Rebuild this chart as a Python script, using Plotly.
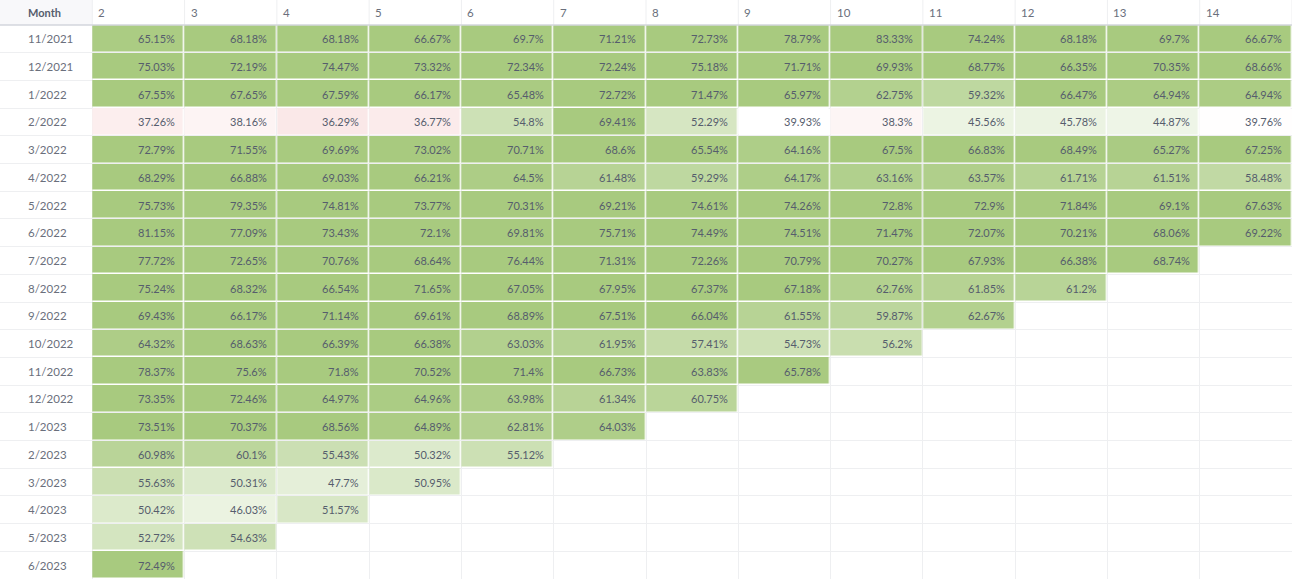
import numpy as np
import plotly.graph_objects as go

months = ['11/2021', '12/2021', '1/2022', '2/2022', '3/2022', '4/2022', '5/2022', '6/2022',
          '7/2022', '8/2022', '9/2022', '10/2022', '11/2022', '12/2022', '1/2023', '2/2023',
          '3/2023', '4/2023', '5/2023', '6/2023']
periods = ['2', '3', '4', '5', '6', '7', '8', '9', '10', '11', '12', '13', '14']

retention = [
    [65.15, 68.18, 68.18, 66.67, 69.7, 71.21, 72.73, 78.79, 83.33, 74.24, 68.18, 69.7, 66.67],
    [75.03, 72.19, 74.47, 73.32, 72.34, 72.24, 75.18, 71.71, 69.93, 68.77, 66.35, 70.35, 68.66],
    [67.55, 67.65, 67.59, 66.17, 65.48, 72.72, 71.47, 65.97, 62.75, 59.32, 66.47, 64.94, 64.94],
    [37.26, 38.16, 36.29, 36.77, 54.8, 69.41, 52.29, 39.93, 38.3, 45.56, 45.78, 44.87, 39.76],
    [72.79, 71.55, 69.69, 73.02, 70.71, 68.6, 65.54, 64.16, 67.5, 66.83, 68.49, 65.27, 67.25],
    [68.29, 66.88, 69.03, 66.21, 64.5, 61.48, 59.29, 64.17, 63.16, 63.57, 61.71, 61.51, 58.48],
    [75.73, 79.35, 74.81, 73.77, 70.31, 69.21, 74.61, 74.26, 72.8, 72.9, 71.84, 69.1, 67.63],
    [81.15, 77.09, 73.43, 72.1, 69.81, 75.71, 74.49, 74.51, 71.47, 72.07, 70.21, 68.06, 69.22],
    [77.72, 72.65, 70.76, 68.64, 76.44, 71.31, 72.26, 70.79, 70.27, 67.93, 66.38, 68.74],
    [75.24, 68.32, 66.54, 71.65, 67.05, 67.95, 67.37, 67.18, 62.76, 61.85, 61.2],
    [69.43, 66.17, 71.14, 69.61, 68.89, 67.51, 66.04, 61.55, 59.87, 62.67],
    [64.32, 68.63, 66.39, 66.38, 63.03, 61.95, 57.41, 54.73, 56.2],
    [78.37, 75.6, 71.8, 70.52, 71.4, 66.73, 63.83, 65.78],
    [73.35, 72.46, 64.97, 64.96, 63.98, 61.34, 60.75],
    [73.51, 70.37, 68.56, 64.89, 62.81, 64.03],
    [60.98, 60.1, 55.43, 50.32, 55.12],
    [55.63, 50.31, 47.7, 50.95],
    [50.42, 46.03, 51.57],
    [52.72, 54.63],
    [72.49],
]

W, H = 1292, 579
HEADER_PX = 25
TEXT = '#565D6D'
LIGHT = '#6A6F7C'
GRID = '#EEEFF1'

# pad the triangle with NaN so the empty cells stay blank
z = np.full((len(months), len(periods)), np.nan)
for i, row in enumerate(retention):
    z[i, :len(row)] = row

col_x = list(range(1, len(periods) + 1))   # column 0 holds the Month labels
row_y = list(range(len(months)))
top = 1 - HEADER_PX / H
head_y = (1 + top) / 2

fig = go.Figure(go.Heatmap(
    z=z, x=col_x, y=row_y,
    zmin=36, zmax=66,
    colorscale=[[0, '#FAE6E6'], [0.13, '#FFFFFF'], [1, '#A8CA7F']],
    showscale=False, xgap=1.5, ygap=1.5, hoverinfo='skip',
))

anns = []
for i, m in enumerate(months):
    anns.append(dict(x=-0.5, y=i, xref='x', yref='y', text=m, showarrow=False,
                     xanchor='left', xshift=26, font=dict(color=LIGHT, size=11.5)))
    for j, v in enumerate(retention[i]):
        anns.append(dict(x=col_x[j] + 0.5, y=i, xref='x', yref='y', text=f'{v:g}%',
                         showarrow=False, xanchor='right', xshift=-8,
                         font=dict(color=TEXT, size=11)))

anns.append(dict(x=-0.5, y=head_y, xref='x', yref='paper', text='<b>Month</b>',
                 showarrow=False, xanchor='left', yanchor='middle', xshift=26,
                 font=dict(color=TEXT, size=11)))
for j, p in enumerate(periods):
    anns.append(dict(x=col_x[j] - 0.5, y=head_y, xref='x', yref='paper', text=p,
                     showarrow=False, xanchor='left', yanchor='middle', xshift=4,
                     font=dict(color=LIGHT, size=11.5)))

shapes = [dict(type='rect', xref='x', yref='paper', x0=-0.5, x1=0.5, y0=top, y1=1,
               fillcolor='#F8F8FA', line_width=0, layer='below')]
for j in range(len(periods) + 1):
    shapes.append(dict(type='line', xref='x', yref='paper', x0=j + 0.5, x1=j + 0.5,
                       y0=top, y1=1, line=dict(color=GRID, width=1)))
shapes.append(dict(type='line', xref='paper', yref='paper', x0=0, x1=1, y0=top, y1=top,
                   line=dict(color='#D3D6DC', width=1.5)))

fig.update_layout(
    width=W, height=H, margin=dict(l=0, r=0, t=0, b=0),
    paper_bgcolor='white', plot_bgcolor='white',
    font=dict(family='Lato, Noto Sans, sans-serif'),
    annotations=anns, shapes=shapes,
)
fig.update_xaxes(range=[-0.5, len(periods) + 0.5], tickmode='array',
                 tickvals=[k + 0.5 for k in range(len(periods) + 1)],
                 showticklabels=False, showgrid=True, gridcolor=GRID, zeroline=False, fixedrange=True)
fig.update_yaxes(range=[len(months) - 0.5, -0.5], domain=[0, top], tickmode='array',
                 tickvals=[k + 0.5 for k in range(-1, len(months))],
                 showticklabels=False, showgrid=True, gridcolor=GRID, zeroline=False, fixedrange=True)

fig.write_html('out.html', config={'displayModeBar': False},
               post_script="document.body.style.margin='0';")
